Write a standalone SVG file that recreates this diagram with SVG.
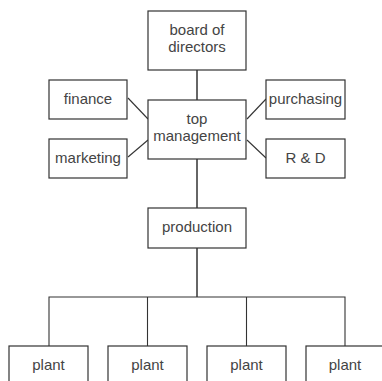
<svg xmlns="http://www.w3.org/2000/svg" width="382" height="381" viewBox="0 0 382 381">
<style>
.box{fill:#fff;stroke:#333;stroke-width:1.2}
.t{font-family:"Liberation Sans",Arial,sans-serif;font-size:15px;fill:#444;text-anchor:middle}
.c{stroke:#333;stroke-width:1.1;fill:none}
.m{stroke:#666;stroke-width:2;fill:none}
</style>
<rect width="382" height="381" fill="#fff"/>
<g id="connectors">
<line class="m" x1="197" y1="70" x2="197" y2="100"/>
<line class="m" x1="197" y1="159" x2="197" y2="208"/>
<line class="m" x1="197" y1="248" x2="197" y2="297"/>
<polyline class="c" points="49,346 49,297 345,297 345,346"/>
<line class="c" x1="147.5" y1="297" x2="147.5" y2="346"/>
<line class="c" x1="246.5" y1="297" x2="246.5" y2="346"/>
<line class="c" x1="128" y1="98" x2="148" y2="119"/>
<line class="c" x1="128" y1="157" x2="148" y2="140"/>
<line class="c" x1="266" y1="99" x2="247" y2="119"/>
<line class="c" x1="266" y1="158" x2="247" y2="140"/>
</g>
<g id="board"><rect class="box" x="148" y="11" width="98" height="59"/><text class="t" x="197" y="35">board of</text><text class="t" x="197" y="52">directors</text></g>
<g id="top"><rect class="box" x="148" y="100" width="98" height="59"/><text class="t" x="197" y="124">top</text><text class="t" x="197" y="141">management</text></g>
<g id="finance"><rect class="box" x="49" y="80" width="78" height="39"/><text class="t" x="88" y="104">finance</text></g>
<g id="marketing"><rect class="box" x="49" y="139" width="78" height="39"/><text class="t" x="88" y="163">marketing</text></g>
<g id="purchasing"><rect class="box" x="266" y="80" width="79" height="39"/><text class="t" x="305.5" y="104">purchasing</text></g>
<g id="rd"><rect class="box" x="266" y="139" width="79" height="39"/><text class="t" x="305.5" y="163">R &amp; D</text></g>
<g id="production"><rect class="box" x="148" y="208" width="98" height="40"/><text class="t" x="197" y="232">production</text></g>
<g id="plant1"><rect class="box" x="9" y="346" width="79" height="40"/><text class="t" x="48.5" y="370">plant</text></g>
<g id="plant2"><rect class="box" x="108" y="346" width="79" height="40"/><text class="t" x="147.5" y="370">plant</text></g>
<g id="plant3"><rect class="box" x="207" y="346" width="79" height="40"/><text class="t" x="246.5" y="370">plant</text></g>
<g id="plant4"><rect class="box" x="306" y="346" width="79" height="40"/><text class="t" x="345" y="370">plant</text></g>
</svg>
